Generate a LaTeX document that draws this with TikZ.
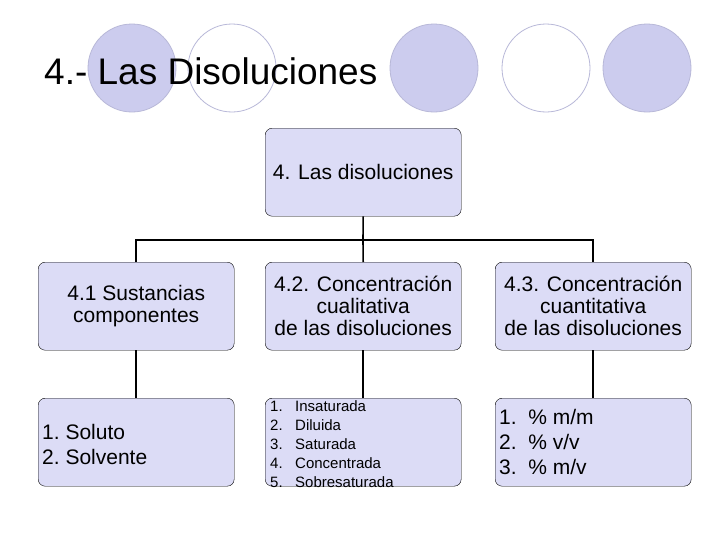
\documentclass[tikz,border=0pt]{standalone}
\usepackage{fontspec}
\setmainfont{Liberation Sans}
\definecolor{boxfill}{HTML}{DCDCF6}
\definecolor{circfill}{HTML}{CCCCEE}
\definecolor{circline}{HTML}{B8B8D8}
\begin{document}
\begin{tikzpicture}[x=1pt,y=-1pt,
  bx/.style={draw=black,fill=boxfill,rounded corners=7pt,minimum width=196pt,minimum height=88pt,anchor=north west,inner sep=1pt,font=\fontsize{21}{22}\selectfont,align=center},
  cf/.style={draw=circline,fill=circfill,line width=0.8pt},
  cw/.style={draw=circline,fill=white,line width=0.8pt},
  ln/.style={line width=1.6pt}]
\useasboundingbox (0,0) rectangle (728,546);
\fill[white] (0,0) rectangle (728,546);
\draw[cf] (132,68) circle (44);
\draw[cw] (232,68) circle (44);
\draw[cf] (434,68) circle (44);
\draw[cw] (546,68) circle (44);
\draw[cf] (647,68) circle (44);
\node[anchor=west,font=\fontsize{37}{40}\selectfont,inner sep=0] (title) at (44,71) {4.- Las Disoluciones};
\node[bx] (top) at (265,128) {4. Las disoluciones};
\node[bx] (a) at (38,262) {4.1 Sustancias\\ componentes};
\node[bx] (b) at (265,262) {4.2. Concentración\\cualitativa\\de las disoluciones};
\node[bx] (c) at (495,262) {4.3. Concentración\\cuantitativa\\de las disoluciones};
\node[bx] (a2) at (38,398) {};
\node[bx] (b2) at (265,398) {};
\node[bx] (c2) at (495,398) {};
\node[anchor=west,font=\fontsize{21}{25}\selectfont,align=left,inner sep=0] (a2t) at (42,444) {1.\ Soluto\\2.\ Solvente};
\node[anchor=west,font=\fontsize{15}{19}\selectfont,align=left,inner sep=0] (b2t) at (270,444) {1.\ \ \ Insaturada\\2.\ \ \ Diluida\\3.\ \ \ Saturada\\4.\ \ \ Concentrada\\5.\ \ \ Sobresaturada};
\node[anchor=west,font=\fontsize{21}{25}\selectfont,align=left,inner sep=0] (c2t) at (499,442) {1.\ \ \% m/m\\2.\ \ \% v/v\\3.\ \ \% m/v};
\coordinate (j) at (363,240);
\draw[ln] (top.south) -- (j);
\draw[ln] (a.north) |- (j) -| (c.north);
\draw[ln] (j) -- (b.north);
\draw[ln] (a.south) -- (a2.north);
\draw[ln] (b.south) -- (b2.north);
\draw[ln] (c.south) -- (c2.north);
\end{tikzpicture}
\end{document}
